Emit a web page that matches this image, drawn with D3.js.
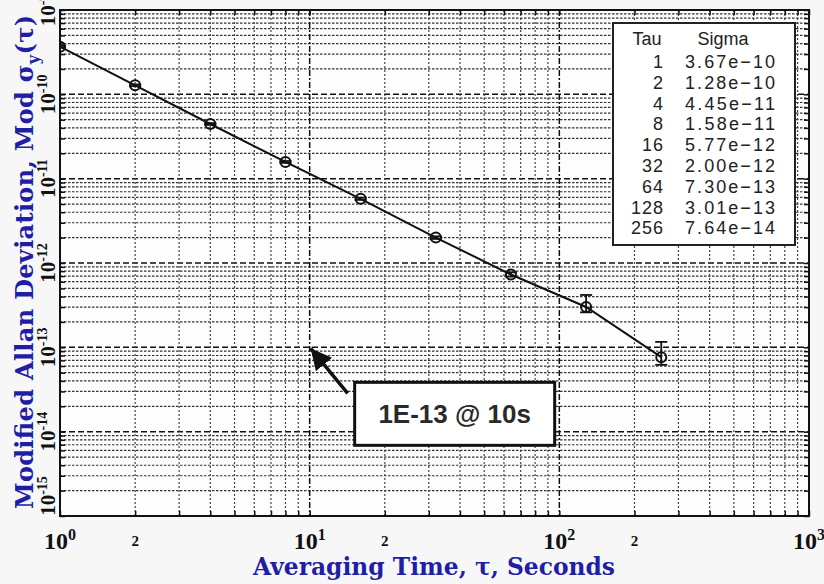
<!DOCTYPE html>
<html>
<head>
<meta charset="utf-8">
<script src="https://cdn.jsdelivr.net/npm/d3@7"></script>
<style>
  body { margin: 0; background: #f7f7f7; }
  svg { display: block; }
</style>
</head>
<body>
<div id="chart"></div>
<script>
// averaging times and modified allan deviation
var tau = [1, 2, 4, 8, 16, 32, 64, 128, 256];
var sigma = [3.67e-10, 1.28e-10, 4.45e-11, 1.58e-11, 5.77e-12, 2.00e-12, 7.30e-13, 3.01e-13, 7.64e-14];
var sigmaHi = [3.75e-10, 1.31e-10, 4.56e-11, 1.62e-11, 5.95e-12, 2.07e-12, 7.75e-13, 4.18e-13, 1.16e-13];
var sigmaLo = [3.59e-10, 1.25e-10, 4.34e-11, 1.54e-11, 5.60e-12, 1.93e-12, 6.90e-13, 2.60e-13, 6.20e-14];

// axis ticks
var xLabelTicks = [1, 2, 10, 20, 100, 200, 1000];
var yDecades = [1e-9, 1e-10, 1e-11, 1e-12, 1e-13, 1e-14, 1e-15];

// annotation
var annoTau = 10;
var annoSigma = 1e-13;
var annoText = "1E-13 @ 10s";

var width = 824, height = 584;
var mLeft = 60, mRight = 809, mTop = 10, mBottom = 516;
var blue = "#1f1fa5";

var svg = d3.select("#chart")
  .append("svg")
	.attr("width", width)
	.attr("height", height);

svg.append("rect")
  .attr("width", width).attr("height", height)
  .attr("fill", "#f7f7f7");
svg.append("rect")
  .attr("x", mLeft).attr("y", mTop)
  .attr("width", mRight - mLeft).attr("height", mBottom - mTop)
  .attr("fill", "#fdfdfd");

var x = d3.scaleLog()
  .domain([1, 1000])
  .range([mLeft, mRight]);
var y = d3.scaleLog()
  .domain([1e-15, 1e-9])
  .range([mBottom, mTop]);

function isDecade(v) {
  var l = Math.log10(v);
  return Math.abs(l - Math.round(l)) < 1e-6;
}

// grid
var grid = svg.append("g");
grid.selectAll(".hgrid")
  .data(y.ticks())
  .enter().append("line")
	.attr("x1", mLeft).attr("x2", mRight)
	.attr("y1", function(d) { return y(d); })
	.attr("y2", function(d) { return y(d); })
	.attr("stroke", function(d) { return isDecade(d) ? "#111" : "#333"; })
	.attr("stroke-width", function(d) { return isDecade(d) ? 1.5 : 1.2; })
	.attr("stroke-dasharray", function(d) { return isDecade(d) ? "6,3" : "2.5,1.5"; });
grid.selectAll(".vgrid")
  .data(x.ticks())
  .enter().append("line")
	.attr("y1", mTop).attr("y2", mBottom)
	.attr("x1", function(d) { return x(d); })
	.attr("x2", function(d) { return x(d); })
	.attr("stroke", function(d) { return isDecade(d) ? "#111" : "#444"; })
	.attr("stroke-width", function(d) { return isDecade(d) ? 1.5 : 1.2; })
	.attr("stroke-dasharray", function(d) { return isDecade(d) ? "6,2,2,2" : "2,2"; });

// axes with inward ticks on all sides
svg.append("g")
  .attr("transform", "translate(0," + mBottom + ")")
  .call(d3.axisTop(x).tickSize(5).tickFormat(""));
svg.append("g")
  .attr("transform", "translate(0," + mTop + ")")
  .call(d3.axisBottom(x).tickSize(5).tickFormat(""));
svg.append("g")
  .attr("transform", "translate(" + mLeft + ",0)")
  .call(d3.axisRight(y).tickSize(5).tickFormat(""));
svg.append("g")
  .attr("transform", "translate(" + mRight + ",0)")
  .call(d3.axisLeft(y).tickSize(5).tickFormat(""));
svg.selectAll(".domain").remove();
svg.selectAll(".tick line").attr("stroke", "#111").attr("stroke-width", 1.5);

svg.append("rect")
  .attr("x", mLeft).attr("y", mTop)
  .attr("width", mRight - mLeft).attr("height", mBottom - mTop)
  .attr("fill", "none")
  .attr("stroke", "#111")
  .attr("stroke-width", 2);

// x tick labels
var xl = svg.append("g")
  .attr("font-family", "Liberation Serif")
  .attr("font-weight", "bold")
  .attr("fill", "#111");
xLabelTicks.forEach(function(v) {
  var t = xl.append("text")
	.attr("x", x(v))
	.attr("y", 549)
	.attr("text-anchor", "middle");
  if (isDecade(v)) {
	t.attr("font-size", 24);
	t.append("tspan").text("10");
	t.append("tspan").attr("dy", -9).attr("font-size", 16).text(Math.round(Math.log10(v)));
  } else {
	t.attr("font-size", 15).attr("y", 546).text(String(v).charAt(0));
  }
});

// y tick labels, rotated
var yl = svg.append("g")
  .attr("font-family", "Liberation Serif")
  .attr("font-weight", "bold")
  .attr("fill", "#111");
yDecades.forEach(function(v, i) {
  var cy = y(v);
  if (i == yDecades.length - 1) cy = mBottom - 20;
  var t = yl.append("text")
	.attr("transform", "translate(55," + cy + ") rotate(-90)")
	.attr("text-anchor", "middle")
	.attr("font-size", 21);
  t.append("tspan").text("10");
  t.append("tspan").attr("dy", -8).attr("font-size", 14).text(Math.round(Math.log10(v)));
});

// axis titles
svg.append("text")
  .attr("x", 434).attr("y", 575)
  .attr("text-anchor", "middle")
  .attr("font-family", "DejaVu Serif")
  .attr("font-weight", "bold")
  .attr("font-size", 24)
  .attr("fill", blue)
  .attr("textLength", 362)
  .attr("lengthAdjust", "spacingAndGlyphs")
  .text("Averaging Time, \u03c4, Seconds");

var yt = svg.append("text")
  .attr("transform", "translate(33,262) rotate(-90)")
  .attr("text-anchor", "middle")
  .attr("font-family", "DejaVu Serif")
  .attr("font-weight", "bold")
  .attr("font-size", 24)
  .attr("fill", blue)
  .attr("textLength", 494)
  .attr("lengthAdjust", "spacing");
yt.append("tspan").text("Modified Allan Deviation, Mod \u03c3");
yt.append("tspan").attr("dy", 6).attr("font-size", 16).text("y");
yt.append("tspan").attr("dy", -6).text("(\u03c4)");

// data line, error bars, markers
svg.append("clipPath").attr("id", "plotClip")
  .append("rect")
  .attr("x", mLeft).attr("y", mTop)
  .attr("width", mRight - mLeft).attr("height", mBottom - mTop);
var plot = svg.append("g").attr("clip-path", "url(#plotClip)");

var pts = tau.map(function(t, i) {
  return { tau: t, sigma: sigma[i], hi: sigmaHi[i], lo: sigmaLo[i] };
});

plot.append("path")
  .datum(pts)
  .attr("fill", "none")
  .attr("stroke", "#111")
  .attr("stroke-width", 2)
  .attr("d", d3.line()
	.x(function(d) { return x(d.tau); })
	.y(function(d) { return y(d.sigma); }));

var eb = plot.selectAll(".err")
  .data(pts)
  .enter().append("g")
	.attr("stroke", "#111")
	.attr("stroke-width", 1.8);
eb.append("line")
  .attr("x1", function(d) { return x(d.tau); })
  .attr("x2", function(d) { return x(d.tau); })
  .attr("y1", function(d) { return y(d.hi); })
  .attr("y2", function(d) { return y(d.lo); });
eb.append("line")
  .attr("x1", function(d) { return x(d.tau) - 6; })
  .attr("x2", function(d) { return x(d.tau) + 6; })
  .attr("y1", function(d) { return y(d.hi); })
  .attr("y2", function(d) { return y(d.hi); });
eb.append("line")
  .attr("x1", function(d) { return x(d.tau) - 6; })
  .attr("x2", function(d) { return x(d.tau) + 6; })
  .attr("y1", function(d) { return y(d.lo); })
  .attr("y2", function(d) { return y(d.lo); });

plot.selectAll(".pt")
  .data(pts)
  .enter().append("circle")
	.attr("cx", function(d) { return x(d.tau); })
	.attr("cy", function(d) { return y(d.sigma); })
	.attr("r", 5)
	.attr("fill", "none")
	.attr("stroke", "#111")
	.attr("stroke-width", 2);

// legend table
var lg = svg.append("g").attr("font-family", "Liberation Sans").attr("fill", "#222");
lg.append("rect")
  .attr("x", 613).attr("y", 23)
  .attr("width", 182).attr("height", 222)
  .attr("fill", "#fff")
  .attr("stroke", "#222")
  .attr("stroke-width", 2);
lg.append("text").attr("x", 647).attr("y", 45)
  .attr("text-anchor", "middle").attr("font-size", 18).text("Tau");
lg.append("text").attr("x", 723).attr("y", 45)
  .attr("text-anchor", "middle").attr("font-size", 18).text("Sigma");
tau.forEach(function(t, i) {
  var ty = 68 + i * 20.8;
  lg.append("text").attr("x", 664).attr("y", ty)
	.attr("text-anchor", "end").attr("font-size", 18)
	.attr("letter-spacing", 1).text(t);
  lg.append("text").attr("x", 685).attr("y", ty)
	.attr("font-size", 18)
	.attr("textLength", 90)
	.attr("lengthAdjust", "spacing")
	.text(sigma[i].toExponential(2).replace("-", "\u2212"));
});

// annotation arrow and box
var tipX = x(annoTau), tipY = y(annoSigma);
svg.append("defs").append("marker")
  .attr("id", "arrowHead")
  .attr("viewBox", "0 0 10 10")
  .attr("refX", 10).attr("refY", 5)
  .attr("markerWidth", 6).attr("markerHeight", 6)
  .attr("markerUnits", "strokeWidth")
  .attr("orient", "auto")
  .append("path")
	.attr("d", "M0,0 L10,5 L0,10 z")
	.attr("fill", "#111");
svg.append("line")
  .attr("x1", tipX + 38).attr("y1", tipY + 46)
  .attr("x2", tipX + 1).attr("y2", tipY + 1)
  .attr("stroke", "#111")
  .attr("stroke-width", 3.5)
  .attr("marker-end", "url(#arrowHead)");
svg.append("rect")
  .attr("x", tipX + 45).attr("y", tipY + 35)
  .attr("width", 200).attr("height", 63)
  .attr("fill", "#fff")
  .attr("stroke", "#111")
  .attr("stroke-width", 3);
svg.append("text")
  .attr("x", tipX + 145).attr("y", tipY + 76)
  .attr("text-anchor", "middle")
  .attr("font-family", "Liberation Sans")
  .attr("font-weight", "bold")
  .attr("font-size", 26)
  .attr("fill", "#2a2a2a")
  .text(annoText);
</script>
</body>
</html>
